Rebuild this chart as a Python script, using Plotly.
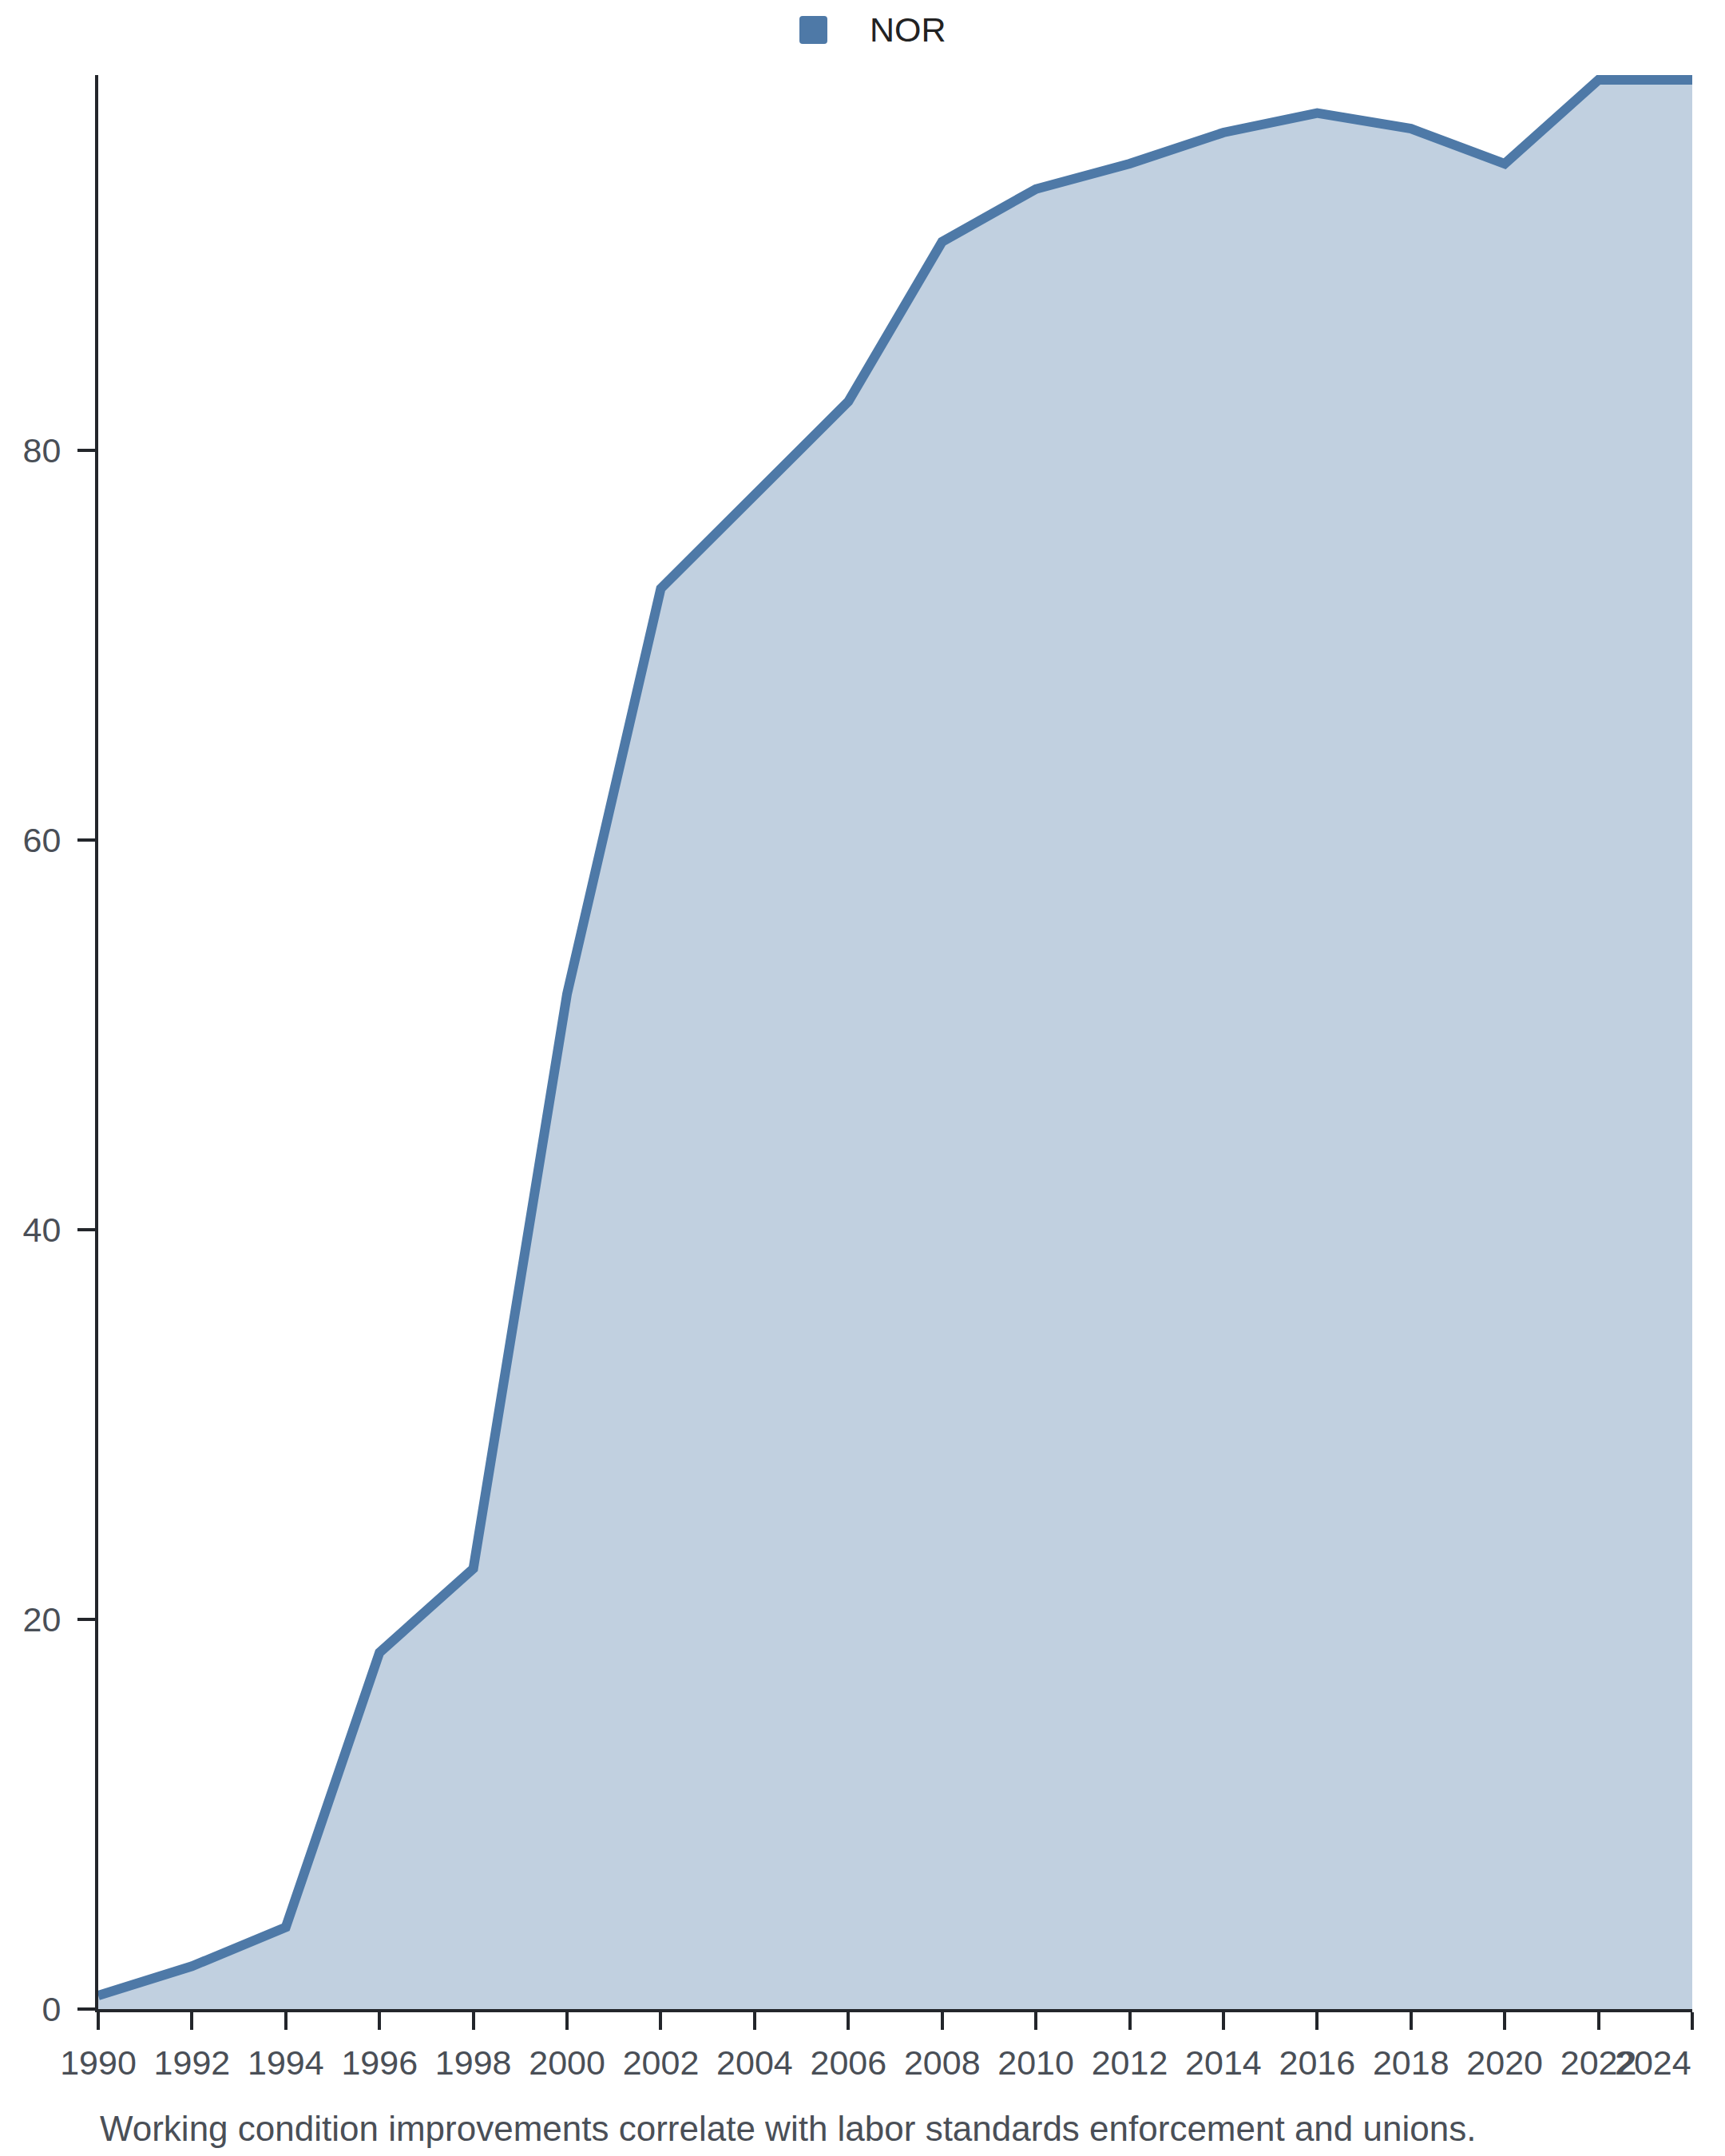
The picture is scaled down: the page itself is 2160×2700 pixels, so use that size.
import plotly.graph_objects as go

years = [1990, 1992, 1994, 1996, 1998, 2000, 2002, 2004, 2006, 2008,
         2010, 2012, 2014, 2016, 2018, 2020, 2022, 2024]
nor_values = [0.7, 2.2, 4.2, 18.3, 22.6, 52.1, 72.9, 77.7, 82.5, 90.7,
              93.4, 94.7, 96.3, 97.3, 96.5, 94.7, 99.0, 99.0]
series_name = "NOR"
y_ticks = [0, 20, 40, 60, 80]
caption = "Working condition improvements correlate with labor standards enforcement and unions."

LINE = "rgb(78,121,167)"
FILL = "rgba(78,121,167,0.35)"
AXIS = "#23262b"
TICKTXT = "#4a4f57"
FONT = "Liberation Sans, Arial, sans-serif"

# the last tick label is kept inside the chart (right-aligned at its tick)
tick_text = [str(y) for y in years[:-1]] + [""]
last_year = years[-1]

fig = go.Figure()
fig.add_trace(go.Scatter(
    x=years, y=nor_values, mode="lines", fill="tozeroy", name=series_name,
    line=dict(color=LINE, width=12), fillcolor=FILL,
    showlegend=False, cliponaxis=False,
))

# legend swatch (rounded square) + label, placed above the plot area
x0, x1 = 0.43988, 0.45741
y0, y1 = 1.01610, 1.03055
rx, ry = 4 / 1996, 4 / 2422
swatch = (f"M {x0+rx},{y0} L {x1-rx},{y0} Q {x1},{y0} {x1},{y0+ry} "
          f"L {x1},{y1-ry} Q {x1},{y1} {x1-rx},{y1} L {x0+rx},{y1} "
          f"Q {x0},{y1} {x0},{y1-ry} L {x0},{y0+ry} Q {x0},{y0} {x0+rx},{y0} Z")

fig.update_layout(
    width=2160, height=2700,
    paper_bgcolor="white", plot_bgcolor="white",
    margin=dict(l=115, r=49, t=86, b=192, autoexpand=False),
    font=dict(family=FONT, size=43, color=TICKTXT),
    showlegend=False,
    xaxis=dict(range=[1990, 2024], tickmode="array", tickvals=years,
               ticktext=tick_text, tickangle=0,
               showgrid=False, zeroline=False, showline=True, linecolor=AXIS, linewidth=4,
               ticks="outside", ticklen=22, tickwidth=4, tickcolor=AXIS,
               ticklabelstandoff=4, ticklabeloverflow="allow",
               tickfont=dict(size=43, color=TICKTXT), automargin=False),
    yaxis=dict(range=[0, 99.25], tickmode="array", tickvals=y_ticks,
               showgrid=False, zeroline=False, showline=True, linecolor=AXIS, linewidth=4,
               ticks="outside", ticklen=22, tickwidth=4, tickcolor=AXIS,
               ticklabelstandoff=12,
               tickfont=dict(size=43, color=TICKTXT), automargin=False),
    shapes=[dict(type="path", path=swatch, xref="paper", yref="paper",
                 fillcolor=LINE, line=dict(width=0), layer="above")],
    annotations=[
        dict(text=series_name, xref="paper", yref="paper", x=0.48297, y=1.02353,
             xanchor="left", yanchor="middle", showarrow=False,
             font=dict(size=43, color="#222222")),
        dict(text=str(last_year), xref="x", yref="paper", x=last_year, y=-0.0275,
             xanchor="right", yanchor="middle", showarrow=False, borderpad=0,
             font=dict(size=43, color=TICKTXT)),
        dict(text=caption, xref="paper", yref="paper", x=0, y=-0.06193,
             xanchor="left", yanchor="middle", showarrow=False,
             font=dict(size=44, color=TICKTXT)),
    ],
)

fig.write_html("out.html")
